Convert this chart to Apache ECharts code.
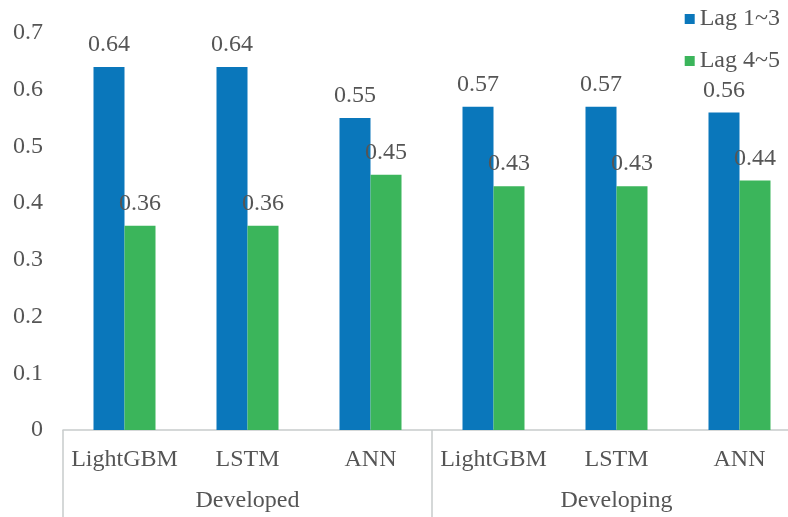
<!DOCTYPE html>
<html>
<head>
<meta charset="utf-8">
<style>
  html, body { margin: 0; padding: 0; background: #fff; }
  #chart { width: 788px; height: 517px; }
</style>
<script src="https://cdn.jsdelivr.net/npm/echarts@6/dist/echarts.min.js"></script>
</head>
<body>
<div id="chart"></div>
<script>
// Models grouped by economy type
const models = ['LightGBM', 'LSTM', 'ANN', 'LightGBM', 'LSTM', 'ANN'];
const groups = ['Developed', 'Developing'];
const seriesNames = ['Lag 1~3', 'Lag 4~5'];
const lag13 = [0.64, 0.64, 0.55, 0.57, 0.57, 0.56];
const lag45 = [0.36, 0.36, 0.45, 0.43, 0.43, 0.44];
const yTicks = [0, 0.1, 0.2, 0.3, 0.4, 0.5, 0.6, 0.7];

const FONT = '"Liberation Serif", "Times New Roman", serif';
const TEXT = '#555555';
const AXIS = '#c8cccc';

const chart = echarts.init(document.getElementById('chart'), null, { renderer: 'canvas' });

const labelStyle = {
  show: true,
  position: 'top',
  distance: 10,
  fontFamily: FONT,
  fontSize: 24,
  color: TEXT,
  formatter: p => p.value.toFixed(2)
};

chart.setOption({
  animation: false,
  backgroundColor: '#ffffff',
  textStyle: { fontFamily: FONT },
  legend: {
    orient: 'vertical',
    right: 3,
    top: 2,
    icon: 'rect',
    itemWidth: 10,
    itemHeight: 10,
    itemGap: 18,
    data: seriesNames,
    textStyle: { fontFamily: FONT, fontSize: 24, color: TEXT }
  },
  // the plot runs past the right edge of the canvas
  grid: {
    left: 63, width: 738, top: 33, height: 397,
    containLabel: false,
    outerBoundsMode: 'none'
  },
  xAxis: [
    {
      type: 'category',
      data: models,
      position: 'bottom',
      axisLine: { show: true, lineStyle: { color: AXIS, width: 1.5 } },
      axisTick: { show: false },
      axisLabel: { margin: 18, fontFamily: FONT, fontSize: 24, color: TEXT, interval: 0 }
    },
    {
      type: 'category',
      data: groups,
      position: 'bottom',
      axisLine: { show: false },
      axisTick: { show: true, length: 95, interval: 0, lineStyle: { color: AXIS, width: 1.5 } },
      axisLabel: { margin: 59, fontFamily: FONT, fontSize: 24, color: TEXT, interval: 0 }
    }
  ],
  yAxis: {
    type: 'value',
    min: 0,
    max: 0.7,
    interval: 0.1,
    splitLine: { show: false },
    axisLine: { show: false },
    axisTick: { show: false },
    axisLabel: {
      margin: 20,
      fontFamily: FONT,
      fontSize: 24,
      color: TEXT,
      formatter: v => {
        const t = yTicks.find(x => Math.abs(x - v) < 1e-9);
        return t === 0 ? '0' : (t !== undefined ? t.toFixed(1) : '');
      }
    }
  },
  series: [
    {
      name: seriesNames[0],
      type: 'bar',
      xAxisIndex: 0,
      data: lag13,
      barWidth: 31,
      barGap: '0%',
      itemStyle: { color: '#0a77bb' },
      label: labelStyle
    },
    {
      name: seriesNames[1],
      type: 'bar',
      xAxisIndex: 0,
      data: lag45,
      barWidth: 31,
      barGap: '0%',
      itemStyle: { color: '#3bb55b' },
      label: labelStyle
    }
  ]
});
</script>
</body>
</html>
